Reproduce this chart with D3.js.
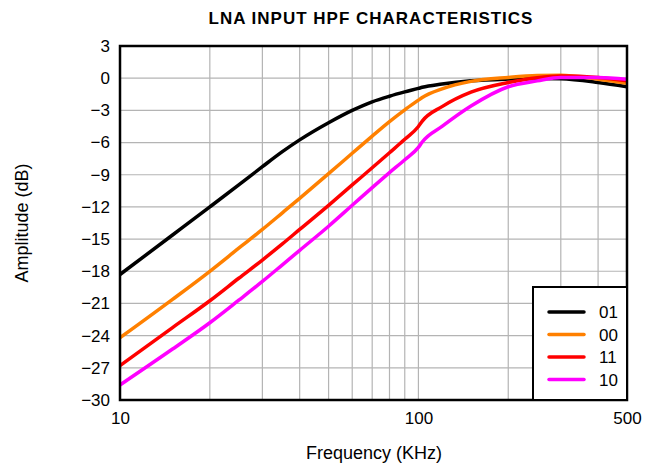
<!DOCTYPE html>
<html><head><meta charset="utf-8">
<script src="https://cdn.jsdelivr.net/npm/d3@7"></script>
<style>body{margin:0;background:#fff;} text{font-family:"Liberation Sans",Arial,sans-serif;}</style>
</head><body><svg id="c" width="656" height="466"></svg>
<script>
const freqs = [10, 15, 20, 25, 30, 35, 40, 50, 60, 70, 80, 90, 100, 103, 120, 150, 200, 250, 300, 400, 500];
const s01 = [-18.3, -14.62, -12.0, -9.95, -8.25, -6.85, -5.75, -4.15, -3.0, -2.2, -1.68, -1.28, -0.95, -0.85, -0.55, -0.25, -0.08, -0.02, -0.05, -0.4, -0.8];
const s00 = [-24.2, -20.62, -18.0, -15.85, -14.1, -12.55, -11.2, -8.9, -7.0, -5.4, -4.05, -2.95, -2.05, -1.8, -1.0, -0.3, 0.07, 0.25, 0.28, -0.1, -0.47];
const s11 = [-26.8, -23.25, -20.75, -18.65, -16.95, -15.45, -14.1, -11.85, -9.95, -8.35, -6.95, -5.7, -4.5, -4.0, -2.65, -1.3, -0.4, 0.05, 0.2, 0.07, -0.25];
const s10 = [-28.6, -25.25, -22.8, -20.7, -18.95, -17.4, -16.05, -13.8, -11.85, -10.2, -8.8, -7.6, -6.45, -5.95, -4.5, -2.6, -0.8, -0.25, 0.07, 0.07, -0.1];
const seriesNames = ["01", "00", "11", "10"];
const seriesColors = ["#000000", "#ff8000", "#ff0000", "#ff00ff"];
const seriesData = [s01, s00, s11, s10];
const xTickLabels = [10, 100, 500];
const xGrid = [20, 30, 40, 50, 60, 70, 80, 90, 100, 200, 300, 400];
const yTicks = [3, 0, -3, -6, -9, -12, -15, -18, -21, -24, -27, -30];

const svg = d3.select("#c");
const L = 120, R = 627, T = 46, B = 400;
const x = d3.scaleLog().domain([10, 500]).range([L, R]);
const y = d3.scaleLinear().domain([-30, 3]).range([B, T]);

// grid
svg.append("g").selectAll("line").data(xGrid).join("line")
  .attr("x1", d => x(d)).attr("x2", d => x(d)).attr("y1", T).attr("y2", B)
  .attr("stroke", "#b4b4b4").attr("stroke-width", 1.2);
svg.append("g").selectAll("line").data(yTicks).join("line")
  .attr("x1", L).attr("x2", R).attr("y1", d => y(d)).attr("y2", d => y(d))
  .attr("stroke", "#b4b4b4").attr("stroke-width", 1.2);

// axes labels
const yAxis = d3.axisLeft(y).tickValues(yTicks).tickSize(0).tickPadding(10).tickFormat(d3.format("d"));
const gy = svg.append("g").attr("transform", `translate(${L},0)`).call(yAxis);
gy.select(".domain").remove();
gy.selectAll("text").attr("font-size", 17).attr("fill", "#000").style("font-family", "Liberation Sans, Arial, sans-serif");

const xAxis = d3.axisBottom(x).tickValues(xTickLabels).tickSize(0).tickPadding(12).tickFormat(d3.format("d"));
const gx = svg.append("g").attr("transform", `translate(0,${B})`).call(xAxis);
gx.select(".domain").remove();
gx.selectAll("text").attr("font-size", 17).attr("fill", "#000").style("font-family", "Liberation Sans, Arial, sans-serif");

// lines
const line = d3.line().x((d, i) => x(freqs[i])).y(d => y(d)).curve(d3.curveMonotoneX);
svg.append("clipPath").attr("id", "clp").append("rect").attr("x", L).attr("y", T).attr("width", R - L).attr("height", B - T);
svg.append("g").attr("clip-path", "url(#clp)").selectAll("path").data(seriesData).join("path")
  .attr("d", d => line(d)).attr("fill", "none")
  .attr("stroke", (d, i) => seriesColors[i]).attr("stroke-width", 3.5).attr("stroke-linejoin", "round");

// frame
svg.append("rect").attr("x", L).attr("y", T).attr("width", R - L).attr("height", B - T)
  .attr("fill", "none").attr("stroke", "#000").attr("stroke-width", 2.5);

// legend
const lg = svg.append("g");
lg.append("rect").attr("x", 533).attr("y", 287).attr("width", R - 533).attr("height", B - 287)
  .attr("fill", "#fff").attr("stroke", "#000").attr("stroke-width", 2);
seriesNames.forEach((n, i) => {
  const yy = 312 + i * 22.5;
  lg.append("line").attr("x1", 549).attr("x2", 584).attr("y1", yy).attr("y2", yy)
    .attr("stroke", seriesColors[i]).attr("stroke-width", 3.5).attr("stroke-linecap", "round");
  lg.append("text").attr("x", 599).attr("y", yy + 6).attr("font-size", 17).text(n);
});

// titles
svg.append("text").attr("x", 371).attr("y", 24).attr("text-anchor", "middle")
  .attr("font-size", 17).attr("font-weight", "bold").attr("letter-spacing", 1).text("LNA INPUT HPF CHARACTERISTICS");
svg.append("text").attr("x", 374).attr("y", 459).attr("text-anchor", "middle")
  .attr("font-size", 18).text("Frequency (KHz)");
svg.append("text").attr("transform", `translate(28,${(T + B) / 2}) rotate(-90)`).attr("text-anchor", "middle")
  .attr("font-size", 18).text("Amplitude (dB)");
</script></body></html>
